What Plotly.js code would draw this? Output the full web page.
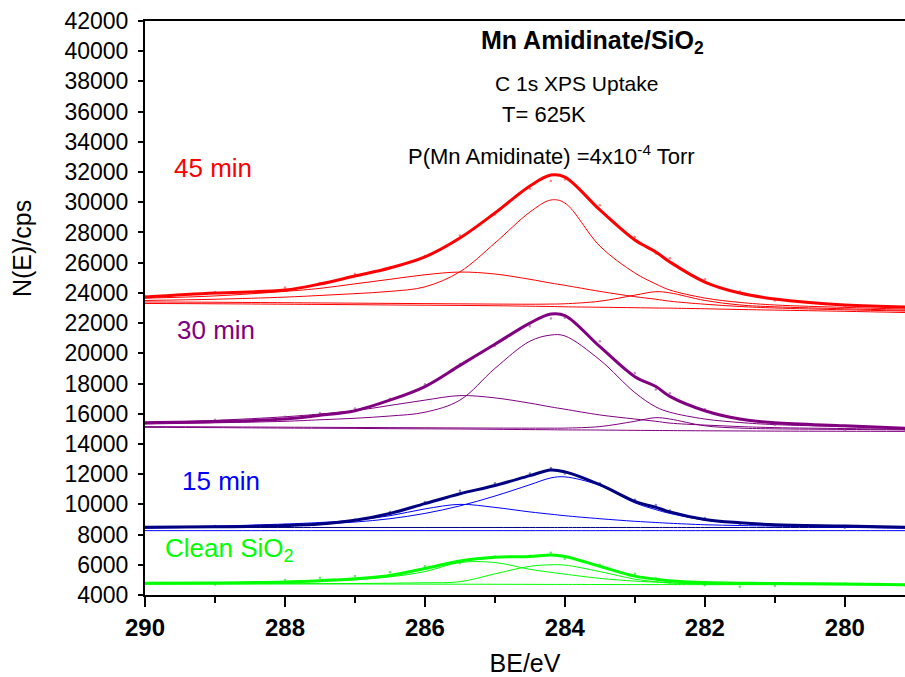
<!DOCTYPE html>
<html>
<head>
<meta charset="utf-8">
<script src="https://cdn.plot.ly/plotly-3.0.1.min.js"></script>
<style>html,body{margin:0;padding:0;background:#fff}#chart{width:905px;height:677px}</style>
</head>
<body>
<div id="chart"></div>
<script>
// Binding energy grid (eV)
const BE = [290, 289, 288, 287.5, 287, 286.5, 286, 285.5, 285, 284.5, 284.2, 284, 283.5, 283, 282.7, 282.5, 282, 281.5, 281, 280, 279.14];

// 45 min (red)
const env45  = [23728, 23990, 24190, 24590, 25120, 25650, 26380, 27630, 29290, 31080, 31800, 31670, 29490, 27500, 26710, 26050, 24720, 23990, 23600, 23200, 23070];
const raw45  = [23800, 24050, 24350, 24650, 25250, 25700, 26450, 27800, 29200, 30900, 31400, 31500, 29800, 27700, 26600, 26300, 24900, 24100, 23500, 23100, 22950];
const c1_45  = [23500, 23580, 23720, 23830, 23950, 24100, 24400, 25400, 27300, 29350, 30150, 29950, 27100, 25320, 24590, 24190, 23660, 23370, 23200, 23040, 22930];
const c2_45  = [23650, 23800, 24100, 24300, 24600, 24900, 25200, 25380, 25250, 24900, 24650, 24500, 24100, 23750, 23580, 23450, 23250, 23100, 23000, 22880, 22800];
const c3_45  = [23400, 23380, 23350, 23335, 23320, 23305, 23290, 23275, 23260, 23250, 23260, 23280, 23450, 23850, 24080, 24000, 23500, 23200, 23080, 22950, 22850];
const bg45   = [23300, 23280, 23250, 23235, 23220, 23200, 23185, 23170, 23150, 23120, 23100, 23080, 23050, 23020, 23000, 22990, 22950, 22900, 22860, 22780, 22700];

// 30 min (purple)
const env30  = [15410, 15480, 15650, 15900, 16200, 16900, 17800, 19200, 20600, 22000, 22600, 22500, 20440, 18450, 17800, 17150, 16200, 15650, 15400, 15200, 15040];
const raw30  = [15450, 15600, 15800, 16050, 16350, 17000, 17950, 19300, 20500, 21800, 22300, 22350, 20800, 18700, 17600, 17350, 16300, 15600, 15250, 14900, 14850];
const c1_30  = [15320, 15400, 15500, 15600, 15700, 15850, 16100, 16900, 19000, 20800, 21210, 21150, 19560, 17400, 16450, 16100, 15650, 15420, 15280, 15150, 15050];
const c2_30  = [15400, 15560, 15800, 15980, 16200, 16550, 16900, 17200, 17050, 16700, 16450, 16300, 15920, 15650, 15500, 15380, 15250, 15150, 15080, 15020, 14970];
const c3_30  = [15150, 15130, 15110, 15100, 15090, 15080, 15070, 15060, 15050, 15045, 15045, 15050, 15150, 15500, 15740, 15650, 15200, 15050, 15000, 14960, 14930];
const bg30   = [15100, 15080, 15050, 15040, 15030, 15010, 15000, 14990, 14970, 14950, 14940, 14930, 14920, 14900, 14890, 14885, 14870, 14860, 14850, 14840, 14830];

// 15 min (blue)
const env15  = [8480, 8520, 8600, 8700, 8950, 9400, 10050, 10700, 11250, 11900, 12280, 12150, 11300, 10200, 9800, 9500, 9000, 8780, 8650, 8560, 8480];
const raw15  = [8500, 8560, 8650, 8750, 9000, 9500, 10150, 10900, 11400, 12050, 12400, 12050, 11400, 10300, 9950, 9600, 9100, 8700, 8550, 8450, 8450];
const c1_15  = [8420, 8500, 8580, 8700, 8830, 9050, 9400, 9900, 10550, 11300, 11750, 11820, 11250, 10100, 9650, 9400, 8960, 8760, 8650, 8540, 8470];
const c2_15  = [8480, 8560, 8700, 8800, 8950, 9250, 9700, 10000, 9800, 9500, 9350, 9250, 9050, 8880, 8800, 8750, 8650, 8600, 8560, 8480, 8420];
const bgA15  = [8470, 8470, 8470, 8470, 8470, 8470, 8470, 8470, 8470, 8470, 8470, 8470, 8470, 8470, 8470, 8470, 8470, 8470, 8470, 8470, 8470];
const bgB15  = [8260, 8260, 8260, 8260, 8260, 8260, 8260, 8260, 8260, 8260, 8260, 8260, 8260, 8260, 8260, 8260, 8260, 8260, 8260, 8260, 8260];

// Clean SiO2 (green)
const envCl  = [4780, 4800, 4860, 4950, 5080, 5300, 5750, 6250, 6500, 6550, 6650, 6550, 5900, 5250, 5050, 4950, 4830, 4780, 4760, 4720, 4680];
const rawCl  = [4750, 4700, 5000, 5150, 5250, 5500, 5900, 6100, 6550, 6600, 6800, 6400, 6000, 5400, 5100, 4850, 4650, 4550, 4600, 4750, 4650];
const c1_Cl  = [4760, 4790, 4850, 4920, 5000, 5200, 5550, 6150, 6150, 5700, 5500, 5380, 5100, 4920, 4850, 4800, 4750, 4730, 4720, 4700, 4680];
const c2_Cl  = [4720, 4730, 4740, 4750, 4760, 4780, 4810, 4880, 5400, 5900, 6000, 5980, 5550, 5050, 4880, 4800, 4730, 4710, 4700, 4690, 4680];
const bgCl   = [4750, 4745, 4740, 4735, 4730, 4725, 4720, 4715, 4710, 4705, 4700, 4700, 4695, 4690, 4690, 4690, 4685, 4685, 4685, 4680, 4680];

const FONT = 'Liberation Sans, Arial, Helvetica, sans-serif';

function line(y, color, width) {
  return {x: BE, y: y, type: 'scatter', mode: 'lines', hoverinfo: 'skip',
          line: {color: color, width: width, shape: 'spline', smoothing: 1}};
}
function dots(y, color) {
  return {x: BE, y: y, type: 'scatter', mode: 'markers', hoverinfo: 'skip',
          marker: {color: color, size: 2.5, opacity: 0.6}};
}

const traces = [
  // 45 min
  line(bg45, '#ff0000', 1), line(c3_45, '#ff0000', 1), line(c2_45, '#ff0000', 1), line(c1_45, '#ff0000', 1),
  dots(raw45, '#ff3030'), line(env45, '#ff0000', 3),
  // 30 min
  line(bg30, '#800080', 1), line(c3_30, '#800080', 1), line(c2_30, '#800080', 1), line(c1_30, '#800080', 1),
  dots(raw30, '#9a409a'), line(env30, '#800080', 3),
  // 15 min
  line(bgB15, '#0000ff', 1), line(bgA15, '#000080', 1), line(c2_15, '#0000ff', 1), line(c1_15, '#0000ff', 1),
  dots(raw15, '#3030a0'), line(env15, '#000080', 3),
  // Clean
  line(bgCl, '#00ff00', 1), line(c2_Cl, '#00ff00', 1), line(c1_Cl, '#00ff00', 1),
  dots(rawCl, '#00dd00'), line(envCl, '#00ff00', 3)
];

const layout = {
  width: 905, height: 677,
  margin: {l: 145, r: 0, t: 21, b: 82},
  paper_bgcolor: '#ffffff', plot_bgcolor: '#ffffff',
  showlegend: false,
  font: {family: FONT, color: '#000'},
  xaxis: {
    range: [290, 279.14], autorange: false,
    tick0: 290, dtick: 2, ticks: 'outside', ticklen: 10, tickwidth: 2, tickcolor: '#000',
    minor: {dtick: 1, ticks: 'outside', ticklen: 6, tickwidth: 2, tickcolor: '#000'},
    showline: true, linewidth: 2, linecolor: '#000', mirror: true,
    showgrid: false, zeroline: false,
    tickfont: {family: FONT, size: 24, weight: 'bold', color: '#000'},
    title: {text: 'BE/eV', font: {family: FONT, size: 25, color: '#000'}, standoff: 16}
  },
  yaxis: {
    range: [4000, 42000], autorange: false,
    tick0: 4000, dtick: 2000, tickformat: 'd',
    ticks: 'outside', ticklen: 5, tickwidth: 2, tickcolor: '#000',
    showline: true, linewidth: 2, linecolor: '#000',
    showgrid: false, zeroline: false,
    tickfont: {family: FONT, size: 23, color: '#000'},
    ticklabelstandoff: 5
  },
  annotations: [
    {text: 'N(E)/cps', xref: 'paper', yref: 'paper', x: -0.1618, y: 0.6028, textangle: -90,
     xanchor: 'center', yanchor: 'middle',
     showarrow: false, font: {family: FONT, size: 25, color: '#000'}},
    {text: '<b>Mn Amidinate/SiO<sub>2</sub></b>', x: 283.6, y: 40610, xref: 'x', yref: 'y', showarrow: false,
     font: {family: FONT, size: 25, color: '#000'}},
    {text: 'C 1s XPS Uptake', x: 283.83, y: 37830, xref: 'x', yref: 'y', showarrow: false,
     font: {family: FONT, size: 21, color: '#000'}},
    {text: 'T= 625K', x: 284.3, y: 35780, xref: 'x', yref: 'y', showarrow: false,
     font: {family: FONT, size: 22, color: '#000'}},
    {text: 'P(Mn Amidinate) =4x10<sup>-4</sup> Torr', x: 284.19, y: 33130, xref: 'x', yref: 'y', showarrow: false,
     font: {family: FONT, size: 22, color: '#000'}},
    {text: '45 min', x: 289.03, y: 32270, xref: 'x', yref: 'y', showarrow: false,
     font: {family: FONT, size: 26, color: '#ff0000'}},
    {text: '30 min', x: 288.99, y: 21540, xref: 'x', yref: 'y', showarrow: false,
     font: {family: FONT, size: 26, color: '#800080'}},
    {text: '15 min', x: 288.91, y: 11550, xref: 'x', yref: 'y', showarrow: false,
     font: {family: FONT, size: 26, color: '#0000ff'}},
    {text: 'Clean SiO<sub>2</sub>', x: 288.79, y: 6980, xref: 'x', yref: 'y', showarrow: false,
     font: {family: FONT, size: 26, color: '#00ff00'}}
  ]
};

Plotly.newPlot('chart', traces, layout, {staticPlot: true, displayModeBar: false});
</script>
</body>
</html>
